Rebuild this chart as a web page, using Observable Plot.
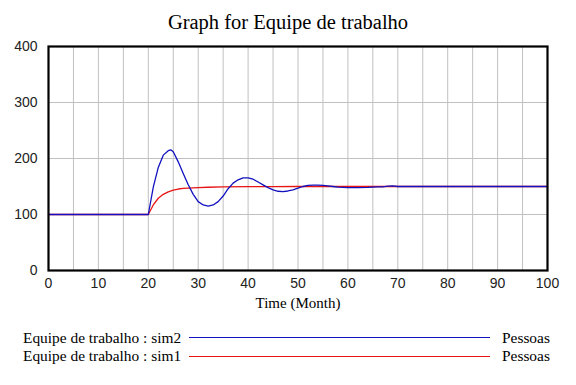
<!DOCTYPE html>
<html>
<head>
<meta charset="utf-8">
<script src="https://cdn.jsdelivr.net/npm/d3@7"></script>
<script src="https://cdn.jsdelivr.net/npm/@observablehq/plot@0.6"></script>
<style>
  html, body { margin: 0; padding: 0; background: #fff; }
  #wrap { position: relative; width: 576px; height: 385px; overflow: hidden; font-family: "Liberation Serif", "Times New Roman", serif; color: #000; }
  .abs { position: absolute; white-space: nowrap; }
  #title { top: 9px; left: 0; width: 576px; text-align: center; font-size: 20.5px; line-height: 26px; }
  #chart { position: absolute; top: 34px; left: 0; }
  #xlabel { top: 294px; left: 48px; width: 500px; text-align: center; font-size: 15px; line-height: 18px; }
  .legtext { font-size: 15.4px; line-height: 18px; }
  .legline { position: absolute; height: 0; }
</style>
</head>
<body>
<div id="wrap">
  <div id="chart"></div>
  <div id="title" class="abs"></div>
  <div id="xlabel" class="abs"></div>
  <div id="legend"></div>
</div>
<script>
const chartTitle = "Graph for Equipe de trabalho";
const xAxisLabel = "Time (Month)";
const xTicks = [0, 10, 20, 30, 40, 50, 60, 70, 80, 90, 100];
const xGrid = [5, 10, 15, 20, 25, 30, 35, 40, 45, 50, 55, 60, 65, 70, 75, 80, 85, 90, 95];
const yTicks = [0, 100, 200, 300, 400];
const yGrid = [100, 200, 300];

// sim2 (blue)
const sim2Time = [0, 20, 21, 22, 23, 24, 24.5, 25, 26, 27, 28, 29, 30, 31, 32, 33, 34, 35, 36, 37, 38, 39, 40, 41, 42, 43, 44, 45, 46, 47, 48, 49, 50, 51, 52, 53, 54, 55, 56, 57, 58, 59, 60, 62, 64, 66, 67, 68, 69, 70, 100];
const sim2Value = [100, 100, 149, 184, 206, 214, 215.5, 212, 194, 173, 153, 136, 123, 117, 115, 117, 123, 133, 146, 156, 162, 165.5, 165.5, 163, 158, 153, 148, 144, 141.5, 141, 142, 144, 147, 150, 152, 152.5, 152.5, 152, 151, 150, 149, 148.5, 148, 148, 148.5, 149.5, 149.5, 150.5, 151, 150, 150];
// sim1 (red)
const sim1Time = [0, 20, 21, 22, 23, 24, 25, 26, 27, 28, 30, 32, 35, 40, 45, 50, 100];
const sim1Value = [100, 100, 117, 129, 136, 140.5, 143.5, 145.5, 146.5, 147, 148, 148.7, 149.2, 149.6, 149.8, 150, 150];

const legendLabels = ["Equipe de trabalho : sim2", "Equipe de trabalho : sim1"];
const legendUnits = ["Pessoas", "Pessoas"];
const seriesColors = ["#1212c0", "#e81414"];

const sim2 = sim2Time.map((t, i) => ({t, v: sim2Value[i]}));
const sim1 = sim1Time.map((t, i) => ({t, v: sim1Value[i]}));

document.getElementById("title").textContent = chartTitle;
document.getElementById("xlabel").textContent = xAxisLabel;

const chart = Plot.plot({
  width: 576,
  height: 281,
  marginTop: 12,
  marginBottom: 45,
  marginLeft: 48,
  marginRight: 29,
  x: {domain: [0, 100]},
  y: {domain: [0, 400]},
  style: {fontFamily: "'Liberation Sans', Arial, sans-serif", fontSize: "14px", background: "transparent", color: "black"},
  marks: [
    Plot.ruleX(xGrid, {stroke: "#c0c0c0", strokeWidth: 1}),
    Plot.ruleY(yGrid, {stroke: "#c0c0c0", strokeWidth: 1}),
    Plot.line(sim1, {x: "t", y: "v", stroke: seriesColors[1], strokeWidth: 1.3}),
    Plot.line(sim2, {x: "t", y: "v", stroke: seriesColors[0], strokeWidth: 1.3}),
    Plot.frame({stroke: "black", strokeWidth: 2.2}),
    Plot.axisX(xTicks, {tickSize: 0, tickPadding: 8, label: null, fill: "#222"}),
    Plot.axisY(yTicks, {tickSize: 0, tickPadding: 11, label: null, fill: "#222"})
  ]
});
document.getElementById("chart").appendChild(chart);

const legend = document.getElementById("legend");
const rowY = [329, 347];
const lineY = [337, 356];
legendLabels.forEach((lab, i) => {
  const t = document.createElement("div");
  t.className = "abs legtext";
  t.style.left = "23px";
  t.style.top = rowY[i] + "px";
  t.textContent = lab;
  legend.appendChild(t);
  const l = document.createElement("div");
  l.className = "legline";
  l.style.left = "189px";
  l.style.width = "301px";
  l.style.top = lineY[i] + "px";
  l.style.borderTop = "1.5px solid " + seriesColors[i];
  legend.appendChild(l);
  const u = document.createElement("div");
  u.className = "abs legtext";
  u.style.left = "502px";
  u.style.top = rowY[i] + "px";
  u.textContent = legendUnits[i];
  legend.appendChild(u);
});
</script>
</body>
</html>
